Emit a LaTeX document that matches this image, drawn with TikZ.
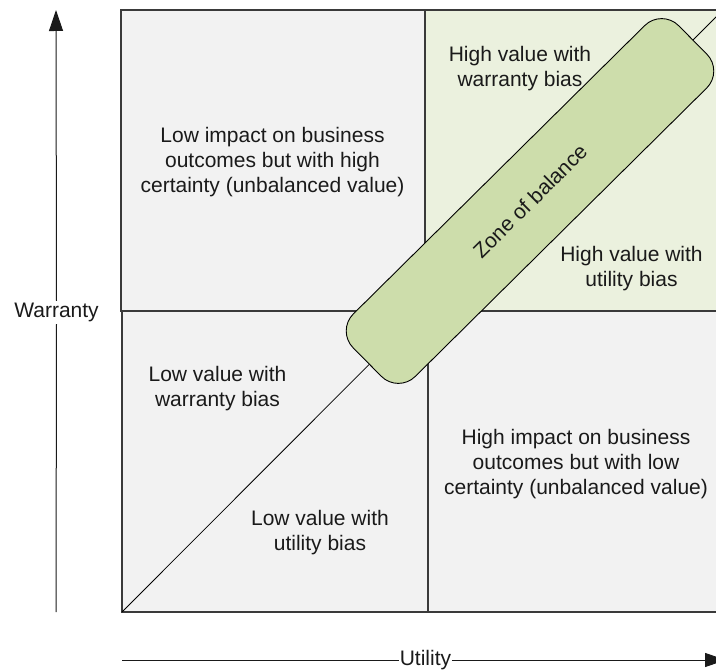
\documentclass[tikz,border=0pt]{standalone}
\usepackage{fontspec}
\setmainfont{Liberation Sans}
\usetikzlibrary{arrows.meta}
\definecolor{boxgray}{HTML}{F2F2F2}
\definecolor{boxgreen}{HTML}{EBF1DE}
\definecolor{zonegreen}{RGB}{205,221,171}
\definecolor{edge}{HTML}{3A3A3A}
\definecolor{ink}{HTML}{1A1A1A}
\begin{document}
\begin{tikzpicture}[x=1pt,y=-1pt,
  quad/.style={draw=edge,line width=1.3pt,rectangle,inner sep=0pt,minimum height=301pt},
  lbl/.style={text=ink,align=center,inner sep=0pt,font=\fontsize{21}{25}\selectfont},
  axis/.style={draw=ink,line width=1pt},
  zone/.style={draw=black,line width=0.9pt,fill=zonegreen,rounded corners=24pt,rectangle,
    minimum width=458pt,minimum height=88pt,inner sep=0pt,rotate=44.7,
    text=ink,font=\fontsize{21}{25}\selectfont}]
\useasboundingbox (0,0) rectangle (716,671);
% quadrants
\node[quad,fill=boxgray,minimum width=304pt] (tl) at (273,160.5) {};
\node[quad,fill=boxgray,minimum width=306pt] (bl) at (275,461.5) {};
\node[quad,fill=boxgray,minimum width=302pt] (br) at (579,461.5) {};
\node[quad,fill=boxgreen,minimum width=305pt] (tr) at (577.5,160.5) {};
% diagonal
\coordinate (dstart) at (122,612);
\coordinate (dend) at (730,3);
\draw[black,line width=0.8pt] (dstart) -- (dend);
% zone of balance
\node[zone] (zone) at (530,201) {Zone of balance};
% texts
\node[lbl] (tltext) at (272.5,162.5) {Low impact on business\\outcomes but with high\\certainty (unbalanced value)};
\node[lbl] (trw) at (520,69) {High value with\\warranty bias};
\node[lbl] (tru) at (631.5,269) {High value with\\utility bias};
\node[lbl] (blw) at (217.5,389) {Low value with\\warranty bias};
\node[lbl] (blu) at (320,532.5) {Low value with\\utility bias};
\node[lbl] (brtext) at (576,464) {High impact on business\\outcomes but with low\\certainty (unbalanced value)};
% axes
\node[lbl,inner sep=2pt] (warranty) at (56.5,312.5) {Warranty};
\coordinate (wbot) at (56,612);
\coordinate (wtop) at (56,10);
\draw[axis] (wbot) -- (warranty.south);
\draw[axis,-{Triangle[length=21pt,width=14pt]}] (warranty.north) -- (wtop);
\node[lbl,inner sep=0.5pt] (utility) at (425.5,660) {Utility};
\coordinate (ustart) at (122,660);
\coordinate (uend) at (726,660);
\draw[axis] (ustart) -- (utility.west);
\draw[axis,-{Triangle[length=21pt,width=14pt]}] (utility.east) -- (uend);
\end{tikzpicture}
\end{document}
